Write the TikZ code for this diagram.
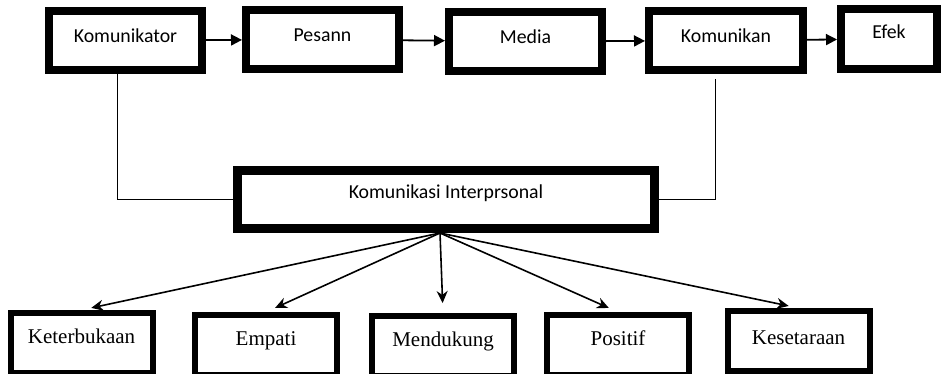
\documentclass[tikz,border=0pt]{standalone}
\usepackage{fontspec}
\setmainfont{Carlito}
\newfontfamily\timesfont{Liberation Serif}
\usetikzlibrary{arrows.meta}

\begin{document}
\begin{tikzpicture}[x=1pt, y=-1pt,
  topbox/.style={rectangle, draw, line width=8pt, fill=white, minimum width=153pt, minimum height=59pt,
    inner sep=0pt, text height=15pt, text depth=11pt, font=\fontsize{19.8}{22}\selectfont},
  lowbox/.style={rectangle, draw, line width=6pt, fill=white, minimum width=142pt, minimum height=60pt,
    inner sep=0pt, text height=14pt, text depth=14pt, font=\timesfont\fontsize{21}{23}\selectfont},
  flow/.style={-{Triangle[length=11pt, width=11pt]}, line width=1.8pt},
  branch/.style={-{Stealth[length=12pt, width=11pt]}, line width=1.6pt, shorten >=10pt},
  link/.style={line width=0.9pt}]
  \useasboundingbox (0,0) rectangle (942,373);
  \clip (0,0) rectangle (942,373);

  % Top row
  \node[topbox] (kom) at (125.5, 40.5) {Komunikator};
  \node[topbox] (pes) at (322.5, 39.5) {Pesann};
  \node[topbox] (med) at (525.5, 41.5) {Media};
  \node[topbox, minimum width=154pt] (kmk) at (726, 40.5) {Komunikan};
  \node[topbox, minimum width=96pt, minimum height=60pt, text depth=17pt] (efk) at (889, 39) {Efek};

  % Middle box
  \node[topbox, line width=9pt, minimum width=417pt, minimum height=58pt, text depth=18pt] (ip) at (446, 199.5) {Komunikasi Interprsonal};
  \coordinate (hub) at (440, 233);

  % Bottom row
  \node[lowbox] (kb) at (81.5, 343) {Keterbukaan};
  \node[lowbox] (em) at (266, 345) {Empati};
  \node[lowbox] (md) at (443, 346) {Mendukung};
  \node[lowbox] (po) at (618, 345) {Positif};
  \node[lowbox, text depth=8pt] (ks) at (798.5, 341) {Kesetaraan};

  % Edges along the top row
  \draw[flow] (kom) -- (pes);
  \draw[flow] (pes) -- (med);
  \draw[flow] (med) -- (kmk);
  \draw[flow] (kmk) -- (efk);

  % Lines into the middle box
  \draw[link] ([xshift=-8.5pt]kom.south) |- (ip.west);
  \draw[link, shorten <=5pt] ([xshift=-11pt]kmk.south) |- (ip.east);

  % Edges from the middle box to the bottom row
  \draw[branch] (hub) -- (kb.north);
  \draw[branch] (hub) -- (em.north);
  \draw[branch] (hub) -- (md.north);
  \draw[branch] (hub) -- (po.north);
  \draw[branch] (hub) -- (ks.north);

\end{tikzpicture}
\end{document}
